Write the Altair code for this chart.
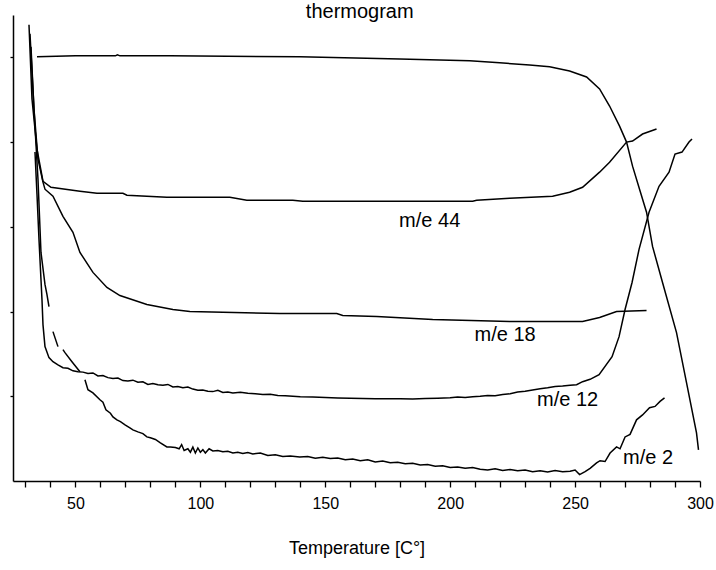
import altair as alt
import pandas as pd

# Thermogram
thermo_x = [34.6, 50.0, 66.0, 66.8, 67.8, 87.8, 139.8, 179.8, 207.8, 219.8, 231.8, 239.8, 247.8, 254.6,
            259.8, 263.8, 267.8, 270.6, 273.0, 275.8, 278.6, 281.0, 285.0, 290.6, 294.6, 298.6, 299.4]
thermo_y = [5.006, 5.018, 5.018, 5.03, 5.018, 5.018, 5.006, 4.982, 4.959, 4.935, 4.911, 4.888, 4.840, 4.769,
            4.627, 4.426, 4.189, 4.0, 3.716, 3.444, 3.172, 2.769, 2.343, 1.751, 1.160, 0.568, 0.367]

# m/e 44
m44_x = [31.4, 32.6, 34.6, 37.0, 40.2, 51.8, 58.6, 69.0, 70.6, 86.6, 111.8, 118.6, 137.0, 141.0, 209.0,
         210.6, 223.8, 241.0, 247.8, 253.0, 259.8, 263.8, 270.6, 273.0, 277.0, 282.6]
m44_y = [5.385, 4.509, 3.917, 3.538, 3.467, 3.420, 3.396, 3.396, 3.373, 3.349, 3.349, 3.314, 3.314, 3.302,
         3.302, 3.314, 3.337, 3.361, 3.408, 3.467, 3.645, 3.763, 4.0, 4.012, 4.095, 4.154]

# m/e 18
m18_x = [32.2, 33.4, 35.0, 37.0, 37.8, 41.0, 45.0, 49.0, 51.8, 57.0, 62.6, 67.8, 78.6, 89.0, 95.8, 131.8,
         154.6, 157.0, 170.6, 193.0, 223.8, 253.0, 259.8, 266.6, 278.6]
m18_y = [5.124, 4.391, 3.799, 3.527, 3.444, 3.361, 3.124, 2.935, 2.698, 2.462, 2.284, 2.189, 2.083, 2.024,
         2.0, 1.976, 1.976, 1.953, 1.941, 1.905, 1.882, 1.882, 1.929, 2.0, 2.012]

# m/e 12
m12_x = [33.8, 34.6, 35.4, 36.2, 36.6, 37.0, 37.8, 39.4,
         41.0, 43.0, 45.0, 47.0, 49.0, 51.0, 53.0, 55.0, 57.0, 59.0, 61.0, 63.0, 65.0, 67.0, 69.0,
         71.0, 73.0, 75.0, 77.0, 79.0, 81.0, 83.0, 85.0, 87.0, 89.0, 91.0, 93.0, 95.0, 97.0, 99.0,
         101.0, 103.0, 105.0, 107.0, 109.0, 111.0, 113.0, 116.0, 119.0, 122.0, 125.0, 128.0, 131.0,
         134.0, 137.0, 140.0, 145.0, 150.0, 155.0, 160.0, 165.0, 170.0, 175.0, 180.0, 185.0, 190.0,
         195.0, 200.0, 203.0, 206.0, 209.0, 212.0, 215.0, 218.0, 221.0, 224.0, 227.0, 230.0, 233.0,
         236.0, 239.0, 242.0, 245.0, 248.0, 250.6, 253.0, 256.0, 259.6,
         264.8, 267.6, 270.0, 272.8, 275.6, 279.6, 283.6, 287.6, 290.0, 292.8, 295.6, 296.8]
m12_y = [3.882, 3.385, 2.852, 2.379, 2.142, 1.846, 1.586, 1.456,
         1.408, 1.37, 1.337, 1.33, 1.30, 1.29, 1.285, 1.27, 1.275, 1.24, 1.245, 1.22, 1.21, 1.215, 1.185,
         1.18, 1.19, 1.165, 1.17, 1.14, 1.15, 1.135, 1.13, 1.14, 1.11, 1.115, 1.10, 1.11, 1.085, 1.07,
         1.075, 1.06, 1.055, 1.07, 1.045, 1.05, 1.04, 1.048, 1.035, 1.03, 1.02, 1.025, 1.01,
         1.005, 1.0, 0.994, 0.99, 0.985, 0.98, 0.978, 0.975, 0.972, 0.970, 0.972, 0.968, 0.975,
         0.978, 0.982, 0.99, 0.985, 0.995, 1.0, 1.01, 1.005, 1.02, 1.03, 1.05, 1.06, 1.075,
         1.09, 1.10, 1.115, 1.12, 1.13, 1.136, 1.172, 1.20, 1.254,
         1.467, 1.704, 2.024, 2.343, 2.734, 3.172, 3.479, 3.645, 3.858, 3.882, 4.0, 4.036]

# m/e 2 (segments separated by gaps in the record)
m2_seg = ([1] * 7 + [2] * 2 + [3] * 4 + [4] * 107)
m2_x = [31.8, 33.4, 35.0, 36.2, 37.8, 38.6, 39.4,
        41.0, 43.0,
        45.0, 45.8, 48.6, 51.8,
        53.8, 55.0, 57.0, 59.8, 61.0, 62.2, 64.0, 65.0, 66.6, 68.0, 70.0, 71.8, 73.0, 75.0, 77.0,
        78.6, 80.0, 82.0, 84.0, 86.6, 88.0, 90.0, 91.5, 92.5, 93.5, 95.0, 96.0, 97.0, 98.0, 99.0,
        100.0, 101.0, 102.0, 103.5, 105.0, 107.0, 109.0, 111.0, 113.0, 115.0, 117.0, 119.0, 121.0,
        124.0, 127.0, 130.0, 133.0, 136.0, 139.8, 143.0, 146.0, 149.0, 152.0, 155.0, 158.0, 161.0,
        164.0, 167.0, 170.0, 173.0, 176.0, 179.0, 182.0, 185.0, 188.0, 191.0, 194.0, 197.0, 200.0,
        203.0, 206.0, 209.0, 212.0, 215.0, 218.0, 221.0, 224.0, 227.0, 230.0, 233.0, 236.0, 239.0,
        242.0, 245.0, 248.0, 250.0, 251.8, 254.0, 256.0, 258.6, 260.0, 262.0, 264.0, 266.6, 268.0,
        270.0, 272.0, 274.6, 277.0, 279.8, 282.0, 284.0, 285.8]
m2_y = [5.278, 4.391, 3.562, 2.698, 2.320, 2.201, 2.059,
        1.763, 1.586,
        1.550, 1.515, 1.408, 1.290,
        1.195, 1.077, 1.04, 0.959, 0.93, 0.84, 0.80, 0.757, 0.722, 0.70, 0.66, 0.627, 0.604, 0.58, 0.56,
        0.521, 0.51, 0.49, 0.45, 0.402, 0.40, 0.395, 0.38, 0.43, 0.36, 0.38, 0.34, 0.40, 0.33, 0.39,
        0.34, 0.37, 0.33, 0.38, 0.355, 0.36, 0.345, 0.35, 0.331, 0.34, 0.325, 0.335, 0.32,
        0.33, 0.30, 0.31, 0.29, 0.295, 0.284, 0.29, 0.27, 0.28, 0.265, 0.27, 0.25, 0.26,
        0.24, 0.25, 0.225, 0.235, 0.215, 0.22, 0.205, 0.21, 0.19, 0.195, 0.175, 0.18, 0.16,
        0.165, 0.15, 0.16, 0.14, 0.13, 0.145, 0.125, 0.135, 0.12, 0.13, 0.11, 0.12, 0.105,
        0.125, 0.11, 0.115, 0.13, 0.075, 0.11, 0.15, 0.213, 0.24, 0.23, 0.33, 0.402, 0.38,
        0.52, 0.55, 0.722, 0.78, 0.864, 0.88, 0.94, 0.982]

x_ticks = list(range(30, 301, 10))
y_ticks = [1, 2, 3, 4, 5]

label_text = ["thermogram", "m/e 44", "m/e 18", "m/e 12", "m/e 2"]
label_x = [163.8, 191.8, 222.0, 247.0, 279.2]
label_y = [5.53, 3.065, 1.728, 0.959, 0.272]

rows = []
for name, xs, ys in [("thermogram", thermo_x, thermo_y), ("m44", m44_x, m44_y),
                     ("m18", m18_x, m18_y), ("m12", m12_x, m12_y)]:
    for i, (a, b) in enumerate(zip(xs, ys)):
        rows.append({"series": name, "seg": 1, "idx": i, "t": a, "v": b})
for i, (s, a, b) in enumerate(zip(m2_seg, m2_x, m2_y)):
    rows.append({"series": "m2", "seg": s, "idx": i, "t": a, "v": b})
df = pd.DataFrame(rows)
df["key"] = df["series"] + "_" + df["seg"].astype(str)

labels = pd.DataFrame({"text": label_text, "t": label_x, "v": label_y})

FONT = "Liberation Sans"

x_scale = alt.Scale(domain=[25, 300], nice=False, zero=False)
y_scale = alt.Scale(domain=[0, 5.5], nice=False, zero=False)

x_axis = alt.Axis(title="Temperature [C°]", values=x_ticks,
                  labelExpr="datum.value % 50 == 0 ? datum.label : ''",
                  labelOverlap=False, grid=False, tickSize=6, tickColor="black",
                  domainColor="black", tickWidth=1.3, domainWidth=1.5,
                  labelFont=FONT, labelFontSize=16, labelColor="black", labelPadding=8,
                  titleFont=FONT, titleFontSize=18, titleFontWeight="normal",
                  titleColor="black", titlePadding=28, labelFlush=False)
y_axis = alt.Axis(title=None, values=y_ticks, labels=False, grid=False,
                  tickSize=3, tickColor="black", domainColor="black",
                  tickWidth=1.3, domainWidth=1.5)

lines = alt.Chart(df).mark_line(color="black", strokeWidth=1.5, clip=True).encode(
    x=alt.X("t:Q", scale=x_scale, axis=x_axis),
    y=alt.Y("v:Q", scale=y_scale, axis=y_axis),
    detail="key:N",
    order="idx:Q",
)

texts = alt.Chart(labels).mark_text(font=FONT, fontSize=20, color="black", clip=False).encode(
    x=alt.X("t:Q", scale=x_scale, axis=x_axis),
    y=alt.Y("v:Q", scale=y_scale, axis=y_axis),
    text="text:N",
)

chart = alt.layer(lines, texts).properties(
    width=687, height=466,
    autosize=alt.AutoSizeParams(type="none"),
    padding={"left": 13, "top": 15, "right": 16, "bottom": 89},
).configure(background="white").configure_view(stroke=None)

chart.save("out.html", embed_options={"renderer": "svg", "actions": False})
